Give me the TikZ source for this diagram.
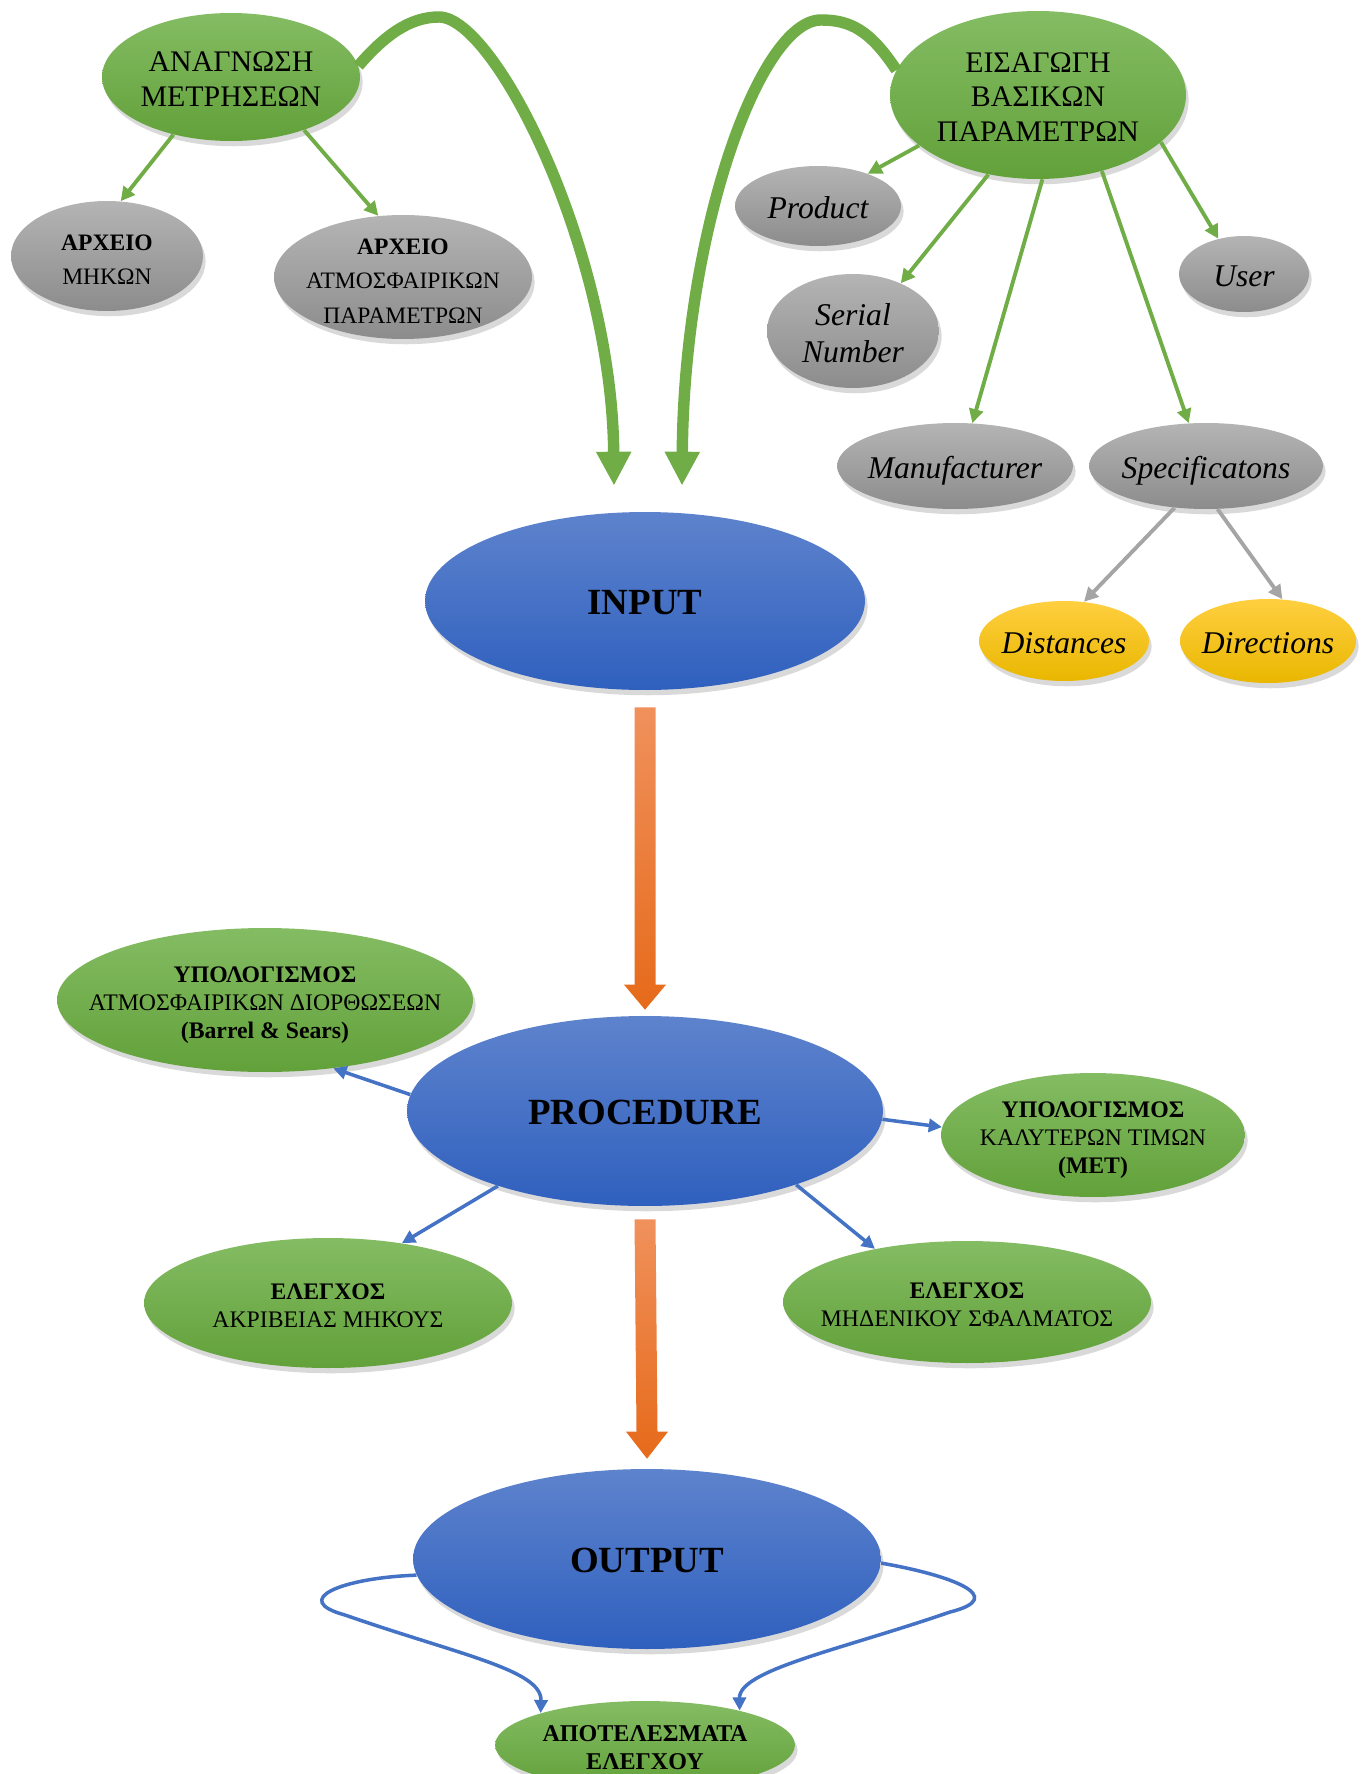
\documentclass[tikz,border=0pt]{standalone}
\usepackage{fontspec}
\setmainfont{Liberation Serif}
\usetikzlibrary{arrows.meta, shapes.geometric, shadows, calc}

\definecolor{grnT}{HTML}{84BC63}
\definecolor{grnB}{HTML}{62A13A}
\definecolor{gryT}{HTML}{B4B4B4}
\definecolor{gryB}{HTML}{8C8C8C}
\definecolor{bluT}{HTML}{5E83CD}
\definecolor{bluB}{HTML}{2F60BE}
\definecolor{ylwT}{HTML}{FFCF40}
\definecolor{ylwB}{HTML}{E9B700}
\definecolor{arrG}{HTML}{70AD47}
\definecolor{arrB}{HTML}{4472C4}
\definecolor{arrY}{HTML}{A5A5A5}
\definecolor{arrOT}{HTML}{F0915C}
\definecolor{arrOB}{HTML}{E66A1A}

\newcommand{\elltext}[1]{\makebox[0pt]{\raisebox{\dimexpr-0.25em-3pt\relax}[0pt][0pt]{%
    \begin{tabular}{@{}c@{}}#1\end{tabular}}}}

\begin{document}
\begin{tikzpicture}[
    x=0.02cm, y=-0.02cm,
    ell/.style={ellipse,inner sep=0pt,
                drop shadow={shadow xshift=1.5pt,shadow yshift=-3pt,opacity=0.3}},
    grn/.style={ell,top color=grnT,bottom color=grnB},
    gry/.style={ell,top color=gryT,bottom color=gryB},
    blu/.style={ell,top color=bluT,bottom color=bluB},
    ylw/.style={ell,top color=ylwT,bottom color=ylwB},
    txtB/.style={font=\fontsize{17}{19.5}\selectfont},
    txtS/.style={font=\fontsize{13.4}{19.6}\selectfont},
    txtI/.style={font=\fontsize{18}{21}\selectfont\itshape},
    txtH/.style={font=\fontsize{21}{24}\selectfont\bfseries},
    txtM/.style={font=\fontsize{13.5}{16}\selectfont},
    txtA/.style={font=\fontsize{13.7}{16}\selectfont\bfseries},
    garr/.style={draw=arrG,line width=2.2pt,-{Triangle[width=8pt,length=8pt]}},
    yarr/.style={draw=arrY,line width=2.2pt,-{Triangle[width=8pt,length=8pt]}},
    barr/.style={draw=arrB,line width=2pt,-{Triangle[width=7.5pt,length=7.5pt]}},
    bigG/.style={draw=arrG,line width=6.5pt,-{Triangle[width=0.66cm,length=0.68cm]}},
    bigO/.style={top color=arrOT,bottom color=arrOB}
]
\useasboundingbox (0,0) rectangle (1371,1774);

% top left
\node[grn,txtB,minimum width=5.16cm,minimum height=2.56cm] (anag) at (231,77)
    {\elltext{ΑΝΑΓΝΩΣΗ\\ΜΕΤΡΗΣΕΩΝ}};
\node[gry,txtS,minimum width=3.84cm,minimum height=2.2cm] (mhk) at (107,256)
    {\elltext{\textbf{ΑΡΧΕΙΟ}\\ΜΗΚΩΝ}};
\node[gry,txtS,minimum width=5.16cm,minimum height=2.48cm] (atm) at (403,277)
    {\elltext{\textbf{ΑΡΧΕΙΟ}\\ΑΤΜΟΣΦΑΙΡΙΚΩΝ\\ΠΑΡΑΜΕΤΡΩΝ}};

% top right
\node[grn,txtB,minimum width=5.92cm,minimum height=3.36cm] (eisag) at (1038,95)
    {\elltext{ΕΙΣΑΓΩΓΗ\\ΒΑΣΙΚΩΝ\\ΠΑΡΑΜΕΤΡΩΝ}};
\node[gry,txtI,minimum width=3.32cm,minimum height=1.6cm] (prod) at (818,206)
    {\elltext{Product}};
\node[gry,txtI,minimum width=3.44cm,minimum height=2.28cm] (serial) at (853,331)
    {\elltext{Serial\\Number}};
\node[gry,txtI,minimum width=2.6cm,minimum height=1.52cm] (user) at (1244,274)
    {\elltext{User}};
\node[gry,txtI,minimum width=4.72cm,minimum height=1.72cm] (manuf) at (955,466)
    {\elltext{Manufacturer}};
\node[gry,txtI,minimum width=4.68cm,minimum height=1.72cm] (spec) at (1206,466)
    {\elltext{Specificatons}};
\node[ylw,txtI,minimum width=3.4cm,minimum height=1.6cm] (dist) at (1064,641)
    {\elltext{Distances}};
\node[ylw,txtI,minimum width=3.52cm,minimum height=1.68cm] (dirs) at (1268,641)
    {\elltext{Directions}};

% main column
\node[blu,txtH,minimum width=8.8cm,minimum height=3.56cm] (input) at (645,601)
    {\elltext{INPUT}};
\node[blu,txtH,minimum width=9.52cm,minimum height=3.8cm] (proc) at (645,1111)
    {\elltext{PROCEDURE}};
\node[blu,txtH,minimum width=9.36cm,minimum height=3.6cm] (out) at (647,1559)
    {\elltext{OUTPUT}};

% procedure children
\node[grn,txtM,minimum width=8.32cm,minimum height=2.88cm] (ypatm) at (265,1000)
    {\elltext{\textbf{ΥΠΟΛΟΓΙΣΜΟΣ}\\ΑΤΜΟΣΦΑΙΡΙΚΩΝ ΔΙΟΡΘΩΣΕΩΝ\\\textbf{(Barrel \& Sears)}}};
\node[grn,txtM,minimum width=6.08cm,minimum height=2.48cm] (ypkal) at (1093,1135)
    {\elltext{\textbf{ΥΠΟΛΟΓΙΣΜΟΣ}\\ΚΑΛΥΤΕΡΩΝ ΤΙΜΩΝ\\\textbf{(MET)}}};
\node[grn,txtM,minimum width=7.36cm,minimum height=2.6cm] (elakr) at (328,1303)
    {\elltext{\textbf{ΕΛΕΓΧΟΣ}\\ΑΚΡΙΒΕΙΑΣ ΜΗΚΟΥΣ}};
\node[grn,txtM,minimum width=7.36cm,minimum height=2.44cm] (elmhd) at (967,1302)
    {\elltext{\textbf{ΕΛΕΓΧΟΣ}\\ΜΗΔΕΝΙΚΟΥ ΣΦΑΛΜΑΤΟΣ}};
\node[grn,txtA,minimum width=6cm,minimum height=1.76cm] (apot) at (645,1745)
    {\elltext{ΑΠΟΤΕΛΕΣΜΑΤΑ\\ΕΛΕΓΧΟΥ}};

% arrows
\draw[garr] (anag.225) -- (mhk.76);
\draw[garr] (anag.-36) -- (atm.112);
\draw[garr] (eisag.203) -- (prod.33);
\draw[garr] (eisag.238) -- (serial.45);
\draw[garr] (eisag.-87) -- (manuf.68);
\draw[garr] (eisag.-50) -- (spec.112);
\draw[garr] (eisag.-21) -- (user.126);
\draw[yarr] (spec.233) -- (dist.63);
\draw[yarr] (spec.-75) -- (dirs.71);

\draw[bigG] (anag.5) .. controls (385,35) and (410,17) .. (439,17)
    .. controls (495,17) and (612,250) .. ([xshift=-0.62cm,yshift=0.52cm]input.north);
\draw[bigG] (eisag.170) .. controls (870,30) and (850,20) .. (821,20)
    .. controls (760,20) and (684,230) .. ([xshift=0.74cm,yshift=0.52cm]input.north);

% orange block arrows
\shade[bigO] ($(input.south)+(-10.5,17)$) -- ($(proc.north)+(-10.5,-31)$)
    -- ($(proc.north)+(-21,-31)$) -- ($(proc.north)+(0,-6)$)
    -- ($(proc.north)+(21,-31)$) -- ($(proc.north)+(10.5,-31)$)
    -- ($(input.south)+(10.5,17)$) -- cycle;
\shade[bigO] ($(proc.south)+(-10.5,13)$) -- ($(out.north)+(-10.5,-37)$)
    -- ($(out.north)+(-21,-37)$) -- ($(out.north)+(0,-10)$)
    -- ($(out.north)+(21,-37)$) -- ($(out.north)+(10.5,-37)$)
    -- ($(proc.south)+(10.5,13)$) -- cycle;

\draw[barr] (proc.176) -- (ypatm.-45);
\draw[barr] (proc.-2) -- (ypkal.177);
\draw[barr] (proc.207) -- (elakr.39);
\draw[barr] (proc.-26) -- (elmhd.150);

\draw[barr] (out.184) .. controls (340,1578) and (290,1600) .. (345,1615)
    .. controls (460,1655) and (542,1670) .. (apot.163);
\draw[barr] (out.-1) .. controls (950,1575) and (1010,1597) .. (950,1612)
    .. controls (840,1650) and (739,1670) .. (apot.20);
\end{tikzpicture}
\end{document}
